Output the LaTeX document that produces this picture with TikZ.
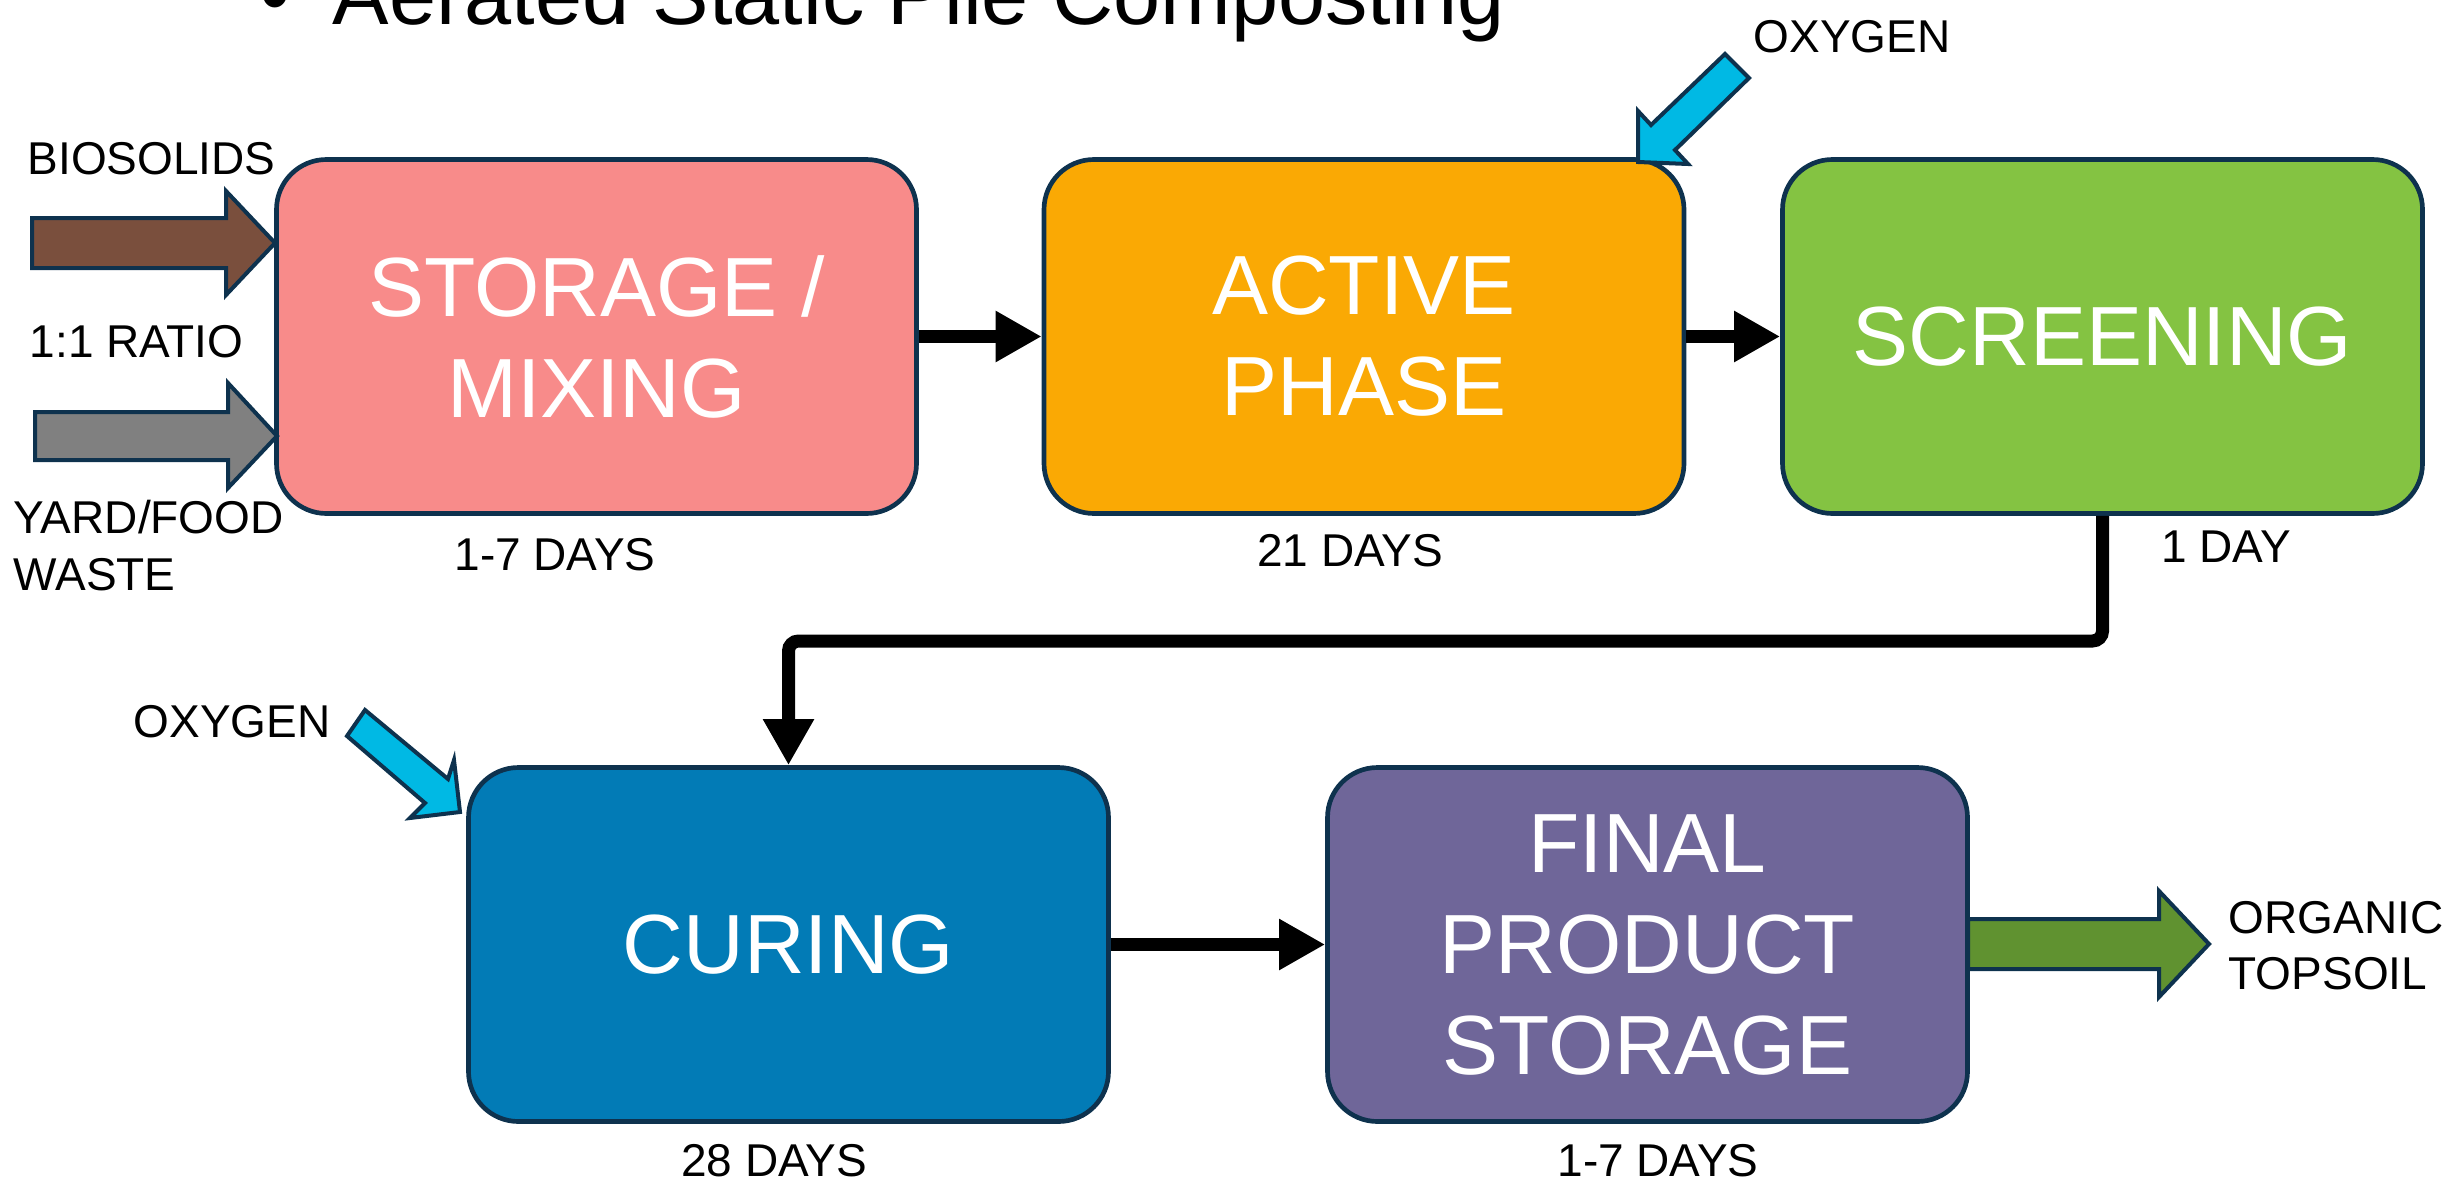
\documentclass[tikz,border=0pt]{standalone}
\usepackage{fontspec}
\setmainfont{Liberation Sans}
\usetikzlibrary{arrows.meta}
\definecolor{edge}{RGB}{14,50,78}
\definecolor{pinkbox}{RGB}{248,139,138}
\definecolor{orangebox}{RGB}{250,169,4}
\definecolor{greenbox}{RGB}{132,195,66}
\definecolor{bluebox}{RGB}{2,123,182}
\definecolor{purplebox}{RGB}{111,102,153}
\definecolor{brownarr}{RGB}{122,79,61}
\definecolor{grayarr}{RGB}{128,128,128}
\definecolor{cyanarr}{RGB}{0,185,228}
\definecolor{greenarr}{RGB}{96,146,48}
\begin{document}
\begin{tikzpicture}[x=0.3pt,y=-0.3pt,
 stage/.style={draw=edge, line width=1.4pt, rounded corners=15pt, minimum width=192pt, minimum height=106.2pt, inner sep=0pt, text=white, font=\fontsize{25.2pt}{30.3pt}\selectfont, align=center},
 lbl/.style={inner sep=0pt, font=\fontsize{13.8pt}{17.1pt}\selectfont},
 flow/.style={line width=3.9pt, -{Triangle[length=13.8pt,width=14.4pt]}},
 blockarr/.style={draw=edge, line width=1.2pt, line join=miter}
]
\useasboundingbox (0,0) rectangle (2458,1181);
\clip (0,0) rectangle (2458,1181);

% title
\node[inner sep=0pt, anchor=base west, font=\fontsize{25.4pt}{30pt}\selectfont] (bullet) at (260,25) {•};
\node[inner sep=0pt, anchor=base west, font=\fontsize{25.4pt}{30pt}\selectfont] (title) at (332,25) {Aerated Static Pile Composting};

% stages
\node[stage, fill=pinkbox] (sto) at (596.5,336.5) {STORAGE /\\MIXING};
\node[stage, fill=orangebox] (act) at (1364,336.5) {ACTIVE\\PHASE};
\node[stage, fill=greenbox] (scr) at (2102.5,336.5) {SCREENING};
\node[stage, fill=bluebox] (cur) at (788.5,944.5) {CURING};
\node[stage, fill=purplebox] (fin) at (1647.5,944.5) {FINAL\\PRODUCT\\STORAGE};

% connectors
\coordinate (bend) at (0,641);
\draw[flow] (sto.east) -- (act.west);
\draw[flow] (act.east) -- (scr.west);
\draw[flow, rounded corners=3pt] (scr.south) -- (scr.south |- bend) -| (cur.north);
\draw[flow] (cur.east) -- (fin.west);

% input block arrows
\draw[blockarr, fill=brownarr] (32,218) -- (226,218) -- (226,191) -- (275,243) -- (226,295) -- (226,268) -- (32,268) -- cycle;
\draw[blockarr, fill=grayarr] (35,412) -- (228,412) -- (228,383) -- (277,436) -- (228,488) -- (228,460) -- (35,460) -- cycle;
% output block arrow
\draw[blockarr, fill=greenarr] (1968,919) -- (2159,919) -- (2159,891) -- (2209,944) -- (2159,997) -- (2159,969) -- (1968,969) -- cycle;
% oxygen arrows
\draw[blockarr, fill=cyanarr] (1725,54) -- (1651,125) -- (1638,111) -- (1638,162) -- (1688,164) -- (1675,150) -- (1749,78) -- cycle;
\draw[blockarr, fill=cyanarr] (365,710) -- (448,779) -- (454,760) -- (460,812) -- (410,818) -- (425,803) -- (347,736) -- cycle;

% labels
\node[lbl, anchor=base west] (bio) at (27,174) {BIOSOLIDS};
\node[lbl, anchor=base west] (ratio) at (29,357) {1:1 RATIO};
\node[lbl, anchor=base west] (yard) at (13,533) {YARD/FOOD};
\node[lbl, anchor=base west] (waste) at (13,590) {WASTE};
\node[lbl, anchor=base] (d1) at (555,570) {1-7 DAYS};
\node[lbl, anchor=base] (d2) at (1350,566) {21 DAYS};
\node[lbl, anchor=base] (d3) at (2226,562) {1 DAY};
\node[lbl, anchor=base west] (oxa) at (1753,52) {OXYGEN};
\node[lbl, anchor=base west] (oxb) at (133,737) {OXYGEN};
\node[lbl, anchor=base] (d4) at (774,1176) {28 DAYS};
\node[lbl, anchor=base] (d5) at (1658,1176) {1-7 DAYS};
\node[lbl, anchor=base west] (org) at (2228,933) {ORGANIC};
\node[lbl, anchor=base west] (top) at (2228,989) {TOPSOIL};
\end{tikzpicture}
\end{document}
